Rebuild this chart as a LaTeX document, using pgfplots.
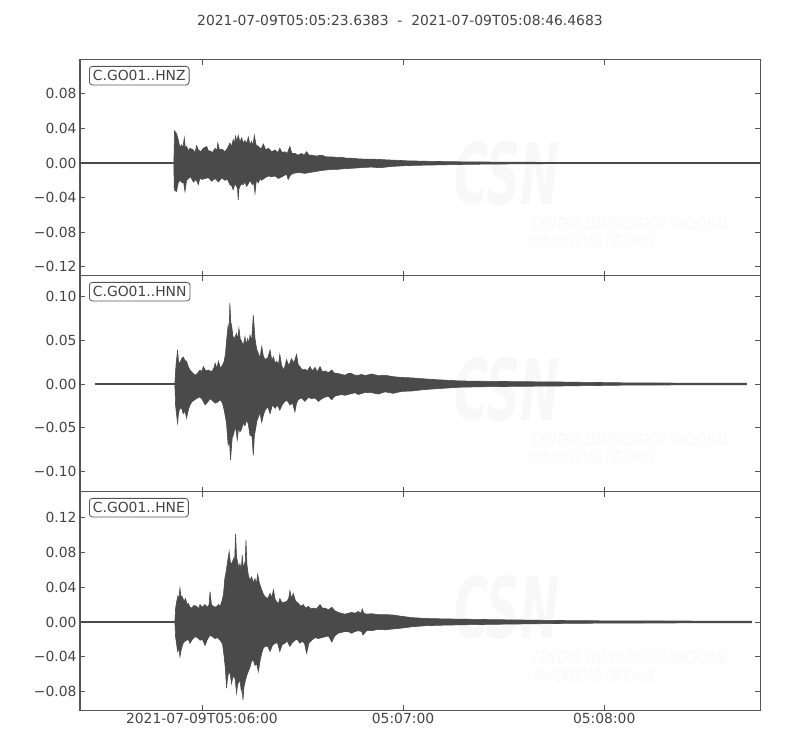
\documentclass[border=0pt]{standalone}
\usepackage{fontspec}
\setmainfont{DejaVu Sans}
\usepackage{graphicx}
\usepackage{pgfplots}
\pgfplotsset{compat=1.18}
\definecolor{ink}{HTML}{4A4A4A}
\definecolor{txt}{HTML}{444444}
\definecolor{spine}{HTML}{555555}
\definecolor{wm}{HTML}{F8F8F8}

\pgfplotsset{
  seis/.style={
    scale only axis, width=680pt, xmin=0, xmax=202.83,
    axis line style={draw=spine, line width=1pt},
    tick align=inside, major tick length=5pt,
    tick style={draw=spine, line width=0.8pt},
    xtick={36.3617,96.3617,156.3617},
    xticklabels={},
    ticklabel style={font=\fontsize{13.9}{16}\selectfont, text=txt},
  },
  base/.style={draw=ink, line width=1.3pt},
  env/.style={fill=ink, draw=ink, line width=0.6pt},
}
\tikzset{stn/.style={anchor=north west, draw=spine, rounded corners=3pt, fill=white,
  line width=0.8pt, inner xsep=3.5pt, inner ysep=4pt,
  font=\fontsize{13.9}{16}\selectfont, text=txt}}

% faint CSN watermark, y = bottom of the panel
\newcommand{\wmark}[1]{%
  \node[text=wm, inner sep=0pt, font=\fontsize{85}{85}\selectfont\bfseries\itshape] at (507pt,#1pt+102pt) {\scalebox{0.55}[1]{CSN}};
  \node[text=wm, anchor=west, inner sep=0pt, text depth=0pt, font=\fontsize{16}{16}\selectfont\itshape] at (532pt,#1pt+52pt) {\scalebox{0.72}[1]{CENTRO SISMOLOGICO NACIONAL}};
  \node[text=wm, anchor=west, inner sep=0pt, text depth=0pt, font=\fontsize{16}{16}\selectfont\itshape] at (528pt,#1pt+34pt) {\scalebox{0.67}[1]{UNIVERSIDAD DE CHILE}};
}

\begin{document}
\begin{tikzpicture}
\useasboundingbox (0,0) rectangle (800pt,750pt);
\wmark{474}
\wmark{258}
\wmark{40}

\node[font=\fontsize{13.9}{16}\selectfont, text=txt] at (400pt,730pt)
  {2021-07-09T05:05:23.6383\ \ -\ \ 2021-07-09T05:08:46.4683};

% ---------------- HNZ ----------------
\begin{axis}[seis, at={(80pt,474pt)}, anchor=south west, height=216pt,
  ymin=-0.1306, ymax=0.119,
  ytick={-0.12,-0.08,-0.04,0,0.04,0.08},
  yticklabels={−0.12,−0.08,−0.04,0.00,0.04,0.08}]
\addplot[base] coordinates {(0,0) (202.83,0)};
\addplot[env] coordinates {
(28.0,0) (28.2,0.037) (28.8,0.034) (29.3,0.027) (29.8,0.018) (30.3,0.021) (30.7,0.017)
(31.1,0.029) (31.4,0.018) (31.8,0.019) (32.3,0.014) (32.8,0.017) (33.8,0.015) (34.3,0.012)
(34.8,0.020) (35.3,0.015) (36.0,0.013) (36.8,0.017) (37.8,0.019) (38.3,0.014) (38.8,0.014)
(39.5,0.012) (40.3,0.017) (40.8,0.014) (41.1,0.023) (41.6,0.015) (42.3,0.016) (43.2,0.013)
(44.0,0.017) (44.7,0.023) (45.2,0.019) (45.7,0.027) (46.0,0.022) (46.4,0.031) (46.8,0.025)
(47.2,0.032) (47.7,0.024) (48.2,0.029) (48.7,0.023) (49.2,0.026) (49.7,0.022) (50.2,0.030)
(50.7,0.021) (51.2,0.025) (51.6,0.020) (52.0,0.032) (52.5,0.021) (53.2,0.019) (54.0,0.016)
(54.7,0.022) (55.4,0.015) (56.2,0.017) (57.2,0.013) (58.2,0.015) (59.0,0.012) (59.6,0.017)
(60.3,0.012) (61.1,0.013) (61.8,0.011) (62.6,0.019) (63.2,0.011) (64.1,0.011) (65.0,0.009)
(66.1,0.011) (66.8,0.009) (67.6,0.013) (68.3,0.009) (69.1,0.009) (70.5,0.008) (72.1,0.009)
(73.5,0.007) (75.1,0.007) (76.5,0.0065) (78.0,0.0066) (79.5,0.0055) (81.0,0.0055) (83.0,0.0048)
(85.0,0.0044) (87.0,0.0045) (89.5,0.004) (92,0.0035) (95,0.003) (97.5,0.0025) (103,0.002)
(110,0.0015) (117,0.0012) (125,0.001) (140,0.0007) (160,0.0005) (202.83,0.0004)
(202.83,-0.0005) (160,-0.0006) (140,-0.0008) (125,-0.0012) (117,-0.0015) (110,-0.002)
(103,-0.0025) (97.5,-0.003) (93,-0.004) (89.5,-0.0055) (87,-0.0048) (85.0,-0.005) (83,-0.0056)
(81.0,-0.0062) (79,-0.0065) (77.0,-0.0073) (75,-0.0075) (73.1,-0.0082) (71.5,-0.009) (70.1,-0.010)
(68.5,-0.011) (67.1,-0.012) (65.3,-0.011) (63.6,-0.012) (62.8,-0.014) (62.1,-0.019) (61.6,-0.013)
(61.1,-0.014) (60.2,-0.016) (59.2,-0.018) (58.2,-0.015) (57.2,-0.016) (56.2,-0.015) (55.2,-0.017)
(54.2,-0.020) (53.7,-0.018) (53.2,-0.023) (52.6,-0.020) (52.2,-0.035) (51.8,-0.022) (51.4,-0.025)
(50.7,-0.020) (50.2,-0.024) (49.7,-0.027) (49.2,-0.022) (48.7,-0.025) (48.2,-0.024) (47.7,-0.027)
(47.4,-0.030) (47.2,-0.043) (47.0,-0.030) (46.7,-0.027) (46.2,-0.024) (45.7,-0.031) (45.2,-0.026)
(44.7,-0.025) (44.0,-0.019) (43.2,-0.020) (42.3,-0.017) (41.3,-0.022) (40.3,-0.018) (39.3,-0.021)
(38.3,-0.017) (37.3,-0.018) (36.3,-0.019) (35.8,-0.017) (35.3,-0.025) (34.6,-0.019) (33.8,-0.022)
(33.0,-0.016) (32.3,-0.018) (31.8,-0.020) (31.3,-0.033) (30.9,-0.022) (30.5,-0.023) (29.8,-0.020)
(29.3,-0.023) (28.8,-0.033) (28.3,-0.032) (28.1,-0.029) (28.0,0)
};
\node[stn, xshift=9pt, yshift=-6pt] at (rel axis cs:0,1) {C.GO01..HNZ};
\end{axis}

% ---------------- HNN ----------------
\begin{axis}[seis, at={(80pt,258pt)}, anchor=south west, height=216pt,
  ymin=-0.124, ymax=0.124,
  ytick={-0.10,-0.05,0,0.05,0.10},
  yticklabels={−0.10,−0.05,0.00,0.05,0.10}]
\addplot[base] coordinates {(4.47,0) (198.8,0)};
\addplot[env] coordinates {
(28.3,0) (28.6,0.020) (29.1,0.039) (29.4,0.025) (29.8,0.024) (30.3,0.029) (30.8,0.031)
(31.3,0.027) (31.8,0.026) (32.3,0.020) (32.8,0.016) (33.5,0.013) (34.3,0.010) (35.0,0.012)
(35.8,0.016) (36.3,0.014) (36.8,0.020) (37.5,0.015) (38.3,0.016) (39.3,0.014) (40.0,0.019)
(40.3,0.024) (40.8,0.018) (41.3,0.026) (41.8,0.019) (42.3,0.020) (43.0,0.026) (43.4,0.035)
(43.7,0.049) (44.2,0.068) (44.5,0.060) (44.7,0.093) (45.0,0.070) (45.2,0.068) (45.6,0.055)
(46.0,0.052) (46.7,0.058) (47.0,0.050) (47.4,0.064) (47.8,0.052) (48.2,0.049) (48.7,0.044)
(49.2,0.054) (49.6,0.045) (50.0,0.052) (50.4,0.047) (50.7,0.056) (51.2,0.050) (51.7,0.079)
(52.2,0.052) (52.7,0.040) (53.2,0.035) (53.7,0.030) (54.2,0.043) (54.7,0.032) (55.2,0.028)
(56.0,0.030) (56.7,0.039) (57.2,0.027) (57.7,0.031) (58.2,0.024) (58.7,0.026) (59.2,0.022)
(59.6,0.034) (60.1,0.022) (60.6,0.016) (61.1,0.020) (61.6,0.028) (62.3,0.021) (63.1,0.029)
(63.8,0.024) (64.6,0.034) (65.1,0.022) (65.6,0.020) (66.3,0.016) (67.1,0.017) (67.8,0.015)
(68.6,0.020) (69.3,0.015) (70.1,0.019) (70.8,0.014) (71.6,0.020) (72.3,0.014) (73.1,0.015)
(74.1,0.013) (75.1,0.016) (76.0,0.012) (77.0,0.012) (78.0,0.011) (79.0,0.010) (80.0,0.012)
(81.0,0.012) (82.0,0.010) (83.0,0.010) (84.0,0.011) (85.0,0.0096) (87,0.0115) (89,0.0095)
(91,0.010) (93.4,0.0084) (96,0.0075) (99,0.007) (102.4,0.006) (106,0.005) (110,0.0042)
(113.3,0.0035) (118,0.0032) (123.2,0.003) (133,0.0026) (143,0.0023) (153,0.0018) (163,0.0013)
(175,0.0011) (190,0.0010) (198.8,0.0009)
(198.8,-0.0009) (190,-0.001) (175,-0.0011) (163,-0.0013) (153,-0.0018) (143,-0.0023) (133,-0.0026)
(123.2,-0.003) (118,-0.0033) (113.3,-0.0037) (110,-0.0045) (106,-0.0055) (102.4,-0.0065) (99,-0.008)
(96,-0.0085) (93.4,-0.0107) (91,-0.009) (89,-0.0115) (87,-0.010) (85.0,-0.0096) (84.0,-0.011)
(83.0,-0.012) (82.0,-0.010) (81.0,-0.011) (80.0,-0.012) (79.0,-0.013) (78.0,-0.012) (77.0,-0.013)
(76.0,-0.014) (75.1,-0.018) (74.1,-0.014) (73.1,-0.015) (72.1,-0.017) (71.1,-0.020) (70.1,-0.016)
(69.1,-0.017) (68.1,-0.015) (67.1,-0.020) (66.1,-0.016) (65.1,-0.018) (64.6,-0.022) (64.1,-0.032)
(63.4,-0.022) (62.6,-0.024) (61.8,-0.019) (61.1,-0.020) (60.3,-0.024) (59.6,-0.030) (58.9,-0.024)
(58.2,-0.028) (57.4,-0.024) (56.7,-0.034) (56.0,-0.026) (55.2,-0.030) (54.7,-0.036) (54.2,-0.044)
(53.7,-0.033) (53.2,-0.038) (52.8,-0.042) (52.4,-0.051) (52.0,-0.060) (51.7,-0.082) (51.3,-0.060)
(50.7,-0.059) (50.2,-0.046) (49.7,-0.041) (49.2,-0.048) (48.7,-0.045) (48.2,-0.052) (47.7,-0.055)
(47.3,-0.050) (46.9,-0.064) (46.5,-0.052) (46.2,-0.051) (45.8,-0.058) (45.4,-0.062) (44.9,-0.087)
(44.6,-0.066) (44.2,-0.070) (43.9,-0.055) (43.7,-0.045) (43.3,-0.036) (43.0,-0.030) (42.5,-0.022)
(41.8,-0.018) (41.0,-0.021) (40.3,-0.022) (39.5,-0.019) (38.8,-0.017) (38.0,-0.021) (37.3,-0.024)
(36.5,-0.018) (35.8,-0.015) (35.0,-0.016) (34.3,-0.018) (33.5,-0.020) (32.8,-0.024) (32.3,-0.030)
(31.8,-0.039) (31.3,-0.031) (30.8,-0.034) (30.3,-0.028) (29.8,-0.028) (29.4,-0.033) (29.1,-0.045)
(28.8,-0.035) (28.5,-0.024) (28.3,0)
};
\node[stn, xshift=9pt, yshift=-6pt] at (rel axis cs:0,1) {C.GO01..HNN};
\end{axis}

% ---------------- HNE ----------------
\begin{axis}[seis, at={(80pt,40pt)}, anchor=south west, height=218pt,
  ymin=-0.1013, ymax=0.1496,
  ytick={-0.08,-0.04,0,0.04,0.08,0.12},
  yticklabels={−0.08,−0.04,0.00,0.04,0.08,0.12},
  xticklabels={2021-07-09T05:06:00,05:07:00,05:08:00}]
\addplot[base] coordinates {(0,0) (200.3,0)};
\addplot[env] coordinates {
(28.3,0) (28.5,0.015) (28.8,0.023) (29.2,0.030) (29.5,0.026) (29.8,0.039) (30.1,0.030)
(30.5,0.029) (31.0,0.024) (31.5,0.027) (31.9,0.020) (32.3,0.0215) (32.8,0.017) (33.3,0.016)
(34.0,0.019) (34.8,0.018) (35.3,0.015) (35.8,0.020) (36.5,0.017) (37.3,0.020) (38.0,0.017)
(38.5,0.020) (38.8,0.035) (39.2,0.020) (39.8,0.018) (40.5,0.017) (41.3,0.020) (41.8,0.018)
(42.4,0.025) (42.8,0.032) (43.2,0.050) (43.6,0.058) (44.0,0.069) (44.5,0.081) (44.8,0.070)
(45.2,0.066) (45.8,0.073) (46.1,0.068) (46.4,0.101) (46.7,0.075) (47.0,0.069) (47.4,0.062)
(47.7,0.067) (48.1,0.060) (48.4,0.077) (48.7,0.062) (49.0,0.066) (49.3,0.070) (49.5,0.094)
(49.8,0.066) (50.2,0.054) (50.7,0.048) (51.2,0.052) (51.7,0.045) (52.2,0.050) (52.6,0.043)
(53.0,0.055) (53.5,0.045) (54.2,0.037) (54.7,0.032) (55.2,0.029) (56.0,0.027) (56.7,0.033)
(57.2,0.028) (57.7,0.037) (58.2,0.026) (58.7,0.023) (59.2,0.021) (59.6,0.027) (60.3,0.022)
(61.1,0.023) (61.8,0.024) (62.3,0.028) (62.6,0.036) (63.1,0.027) (63.6,0.033) (64.3,0.024)
(65.1,0.0215) (65.8,0.018) (66.6,0.020) (67.3,0.016) (68.1,0.018) (68.8,0.015) (69.6,0.016)
(70.5,0.015) (71.6,0.020) (72.3,0.016) (73.1,0.016) (74.1,0.014) (75.1,0.017) (76.0,0.013)
(77.0,0.011) (78.0,0.010) (79.0,0.009) (80.0,0.010) (81.0,0.011) (82.0,0.010) (83.0,0.012)
(83.8,0.010) (84.2,0.015) (84.6,0.010) (85.5,0.009) (87,0.0095) (89,0.0085) (91,0.0085)
(93.4,0.008) (96,0.0065) (99,0.005) (103.4,0.004) (109,0.0035) (115,0.0032) (123,0.0027)
(133,0.0022) (143,0.0017) (153,0.0014) (163,0.0012) (180,0.0011) (200.3,0.0009)
(200.3,-0.0009) (180,-0.0011) (163,-0.0012) (153,-0.0014) (143,-0.0017) (133,-0.0022) (123,-0.0027)
(115,-0.0032) (109,-0.0036) (103.4,-0.0042) (99,-0.0055) (96,-0.007) (93.4,-0.008) (91,-0.009)
(89,-0.0085) (87,-0.010) (85.5,-0.010) (84.4,-0.015) (84.0,-0.011) (83.0,-0.010) (82.0,-0.011)
(81.0,-0.013) (80.0,-0.011) (79.0,-0.011) (78.0,-0.012) (77.0,-0.013) (76.0,-0.016) (75.1,-0.023)
(74.1,-0.016) (73.1,-0.017) (72.1,-0.018) (71.1,-0.019) (70.1,-0.018) (69.1,-0.021) (68.3,-0.024)
(67.6,-0.036) (67.0,-0.025) (66.3,-0.022) (65.6,-0.0245) (64.8,-0.020) (64.1,-0.021) (63.3,-0.024)
(62.6,-0.028) (61.8,-0.022) (61.1,-0.0245) (60.3,-0.026) (59.6,-0.034) (58.9,-0.024) (58.2,-0.0245)
(57.4,-0.027) (56.7,-0.034) (56.0,-0.028) (55.2,-0.028) (54.7,-0.030) (54.2,-0.036) (53.7,-0.045)
(53.2,-0.057) (52.7,-0.048) (52.2,-0.050) (51.7,-0.044) (51.2,-0.045) (50.7,-0.052) (50.2,-0.057)
(49.7,-0.062) (49.3,-0.068) (48.9,-0.075) (48.6,-0.090) (48.3,-0.072) (48.1,-0.079) (47.7,-0.066)
(47.4,-0.069) (47.0,-0.072) (46.7,-0.082) (46.3,-0.066) (45.9,-0.062) (45.5,-0.065) (45.2,-0.071)
(44.8,-0.060) (44.4,-0.057) (44.0,-0.065) (43.7,-0.076) (43.4,-0.055) (43.0,-0.040) (42.5,-0.025)
(41.8,-0.021) (41.0,-0.018) (40.3,-0.019) (39.5,-0.017) (38.8,-0.015) (38.0,-0.020) (37.3,-0.027)
(36.5,-0.020) (35.8,-0.021) (35.0,-0.018) (34.3,-0.017) (33.5,-0.020) (32.8,-0.0245) (32.3,-0.020)
(31.8,-0.021) (31.3,-0.022) (30.8,-0.0245) (30.3,-0.030) (29.8,-0.040) (29.5,-0.030) (29.1,-0.034)
(28.8,-0.025) (28.5,-0.017) (28.3,0)
};
\node[stn, xshift=9pt, yshift=-6pt] at (rel axis cs:0,1) {C.GO01..HNE};
\end{axis}
\end{tikzpicture}
\end{document}
